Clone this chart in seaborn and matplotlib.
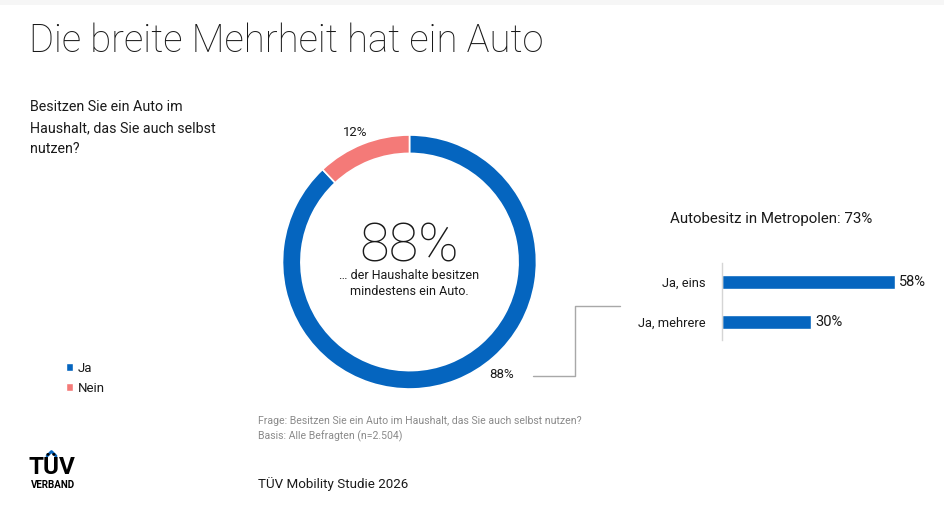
import matplotlib
matplotlib.use("Agg")
import matplotlib.pyplot as plt
import seaborn as sns
import pandas as pd
from matplotlib.lines import Line2D
from matplotlib.patches import Patch

# Data
donut_labels = ['Ja', 'Nein']
donut_values = [88, 12]
metro_labels = ['Ja, eins', 'Ja, mehrere']
metro_values = [58, 30]
metro_total = 73

COLORS = {
    'blue': '#0565BF',
    'salmon': '#F47A78',
    'text': '#1A1A1A',
    'grey': '#8A8A8A',
    'line': '#A8A8A8',
    'spine': '#D5D5D5',
}

W, H = 945, 532

sns.set_theme(style="white")
plt.rcParams['font.family'] = ['Roboto', 'DejaVu Sans']
plt.rcParams['text.color'] = COLORS['text']

fig = plt.figure(figsize=(W / 100, H / 100), dpi=100)
fig.patch.set_facecolor('white')


def px(x, y):
    return x / W, 1 - y / H


def ptext(x, y, s, **kw):
    fig.text(*px(x, y), s, **kw)


def axes_px(left, top, right, bottom):
    return fig.add_axes([left / W, 1 - bottom / H, (right - left) / W, (bottom - top) / H])


# faint strip at the top
fig.add_artist(plt.Rectangle((0, 1 - 5 / H), 1, 5 / H, transform=fig.transFigure,
                             color='#F6F6F6', lw=0))

# Title and question
ptext(29, 41, 'Die breite Mehrheit hat ein Auto', fontsize=27.5, fontweight='light',
      va='center', ha='left')
ptext(30, 128, 'Besitzen Sie ein Auto im\nHaushalt, das Sie auch selbst\nnutzen?',
      fontsize=10.3, va='center', ha='left', linespacing=1.6)

# Donut
ax_d = axes_px(282.5, 135, 536.5, 389)
wedges, _ = ax_d.pie(donut_values, colors=[COLORS['blue'], COLORS['salmon']],
                     startangle=90, counterclock=False, radius=1,
                     wedgeprops=dict(width=0.145, edgecolor='white', linewidth=1.2))
ax_d.set_xlim(-1, 1)
ax_d.set_ylim(-1, 1)
ax_d.set_aspect('auto')
ax_d.axis('off')

ax_d.text(0, 0.12, f'{donut_values[0]}%', fontsize=39, fontweight='light',
          ha='center', va='center')
ax_d.text(0, -0.17, '… der Haushalte besitzen\nmindestens ein Auto.', fontsize=9,
          ha='center', va='center', linespacing=1.3)

ptext(355, 133, f'{donut_values[1]}%', fontsize=9.5, ha='center', va='center')
ptext(502, 375, f'{donut_values[0]}%', fontsize=9.5, ha='center', va='center')

# Legend
handles = [Patch(facecolor=COLORS['blue']), Patch(facecolor=COLORS['salmon'])]
fig.legend(handles, donut_labels, loc='upper left', bbox_to_anchor=px(54, 350),
           frameon=False, handlelength=0.55, handleheight=0.55, handletextpad=0.35,
           labelspacing=0.55, fontsize=9.5)

# Connector line
conn = Line2D([533 / W, 575 / W, 575 / W, 620 / W],
              [1 - 376 / H, 1 - 376 / H, 1 - 306 / H, 1 - 306 / H],
              transform=fig.transFigure, color=COLORS['line'], lw=1)
fig.add_artist(conn)

# Metro bars
metro_df = pd.DataFrame({'label': metro_labels, 'value': metro_values})
ax_b = axes_px(722, 263, 1020, 340)
sns.barplot(data=metro_df, x='value', y='label', order=metro_labels, orient='h',
            color=COLORS['blue'], saturation=1, width=0.33, ax=ax_b)
ax_b.set_xlim(0, 100)
ax_b.set_ylim(1.45, -0.475)
ax_b.set_xlabel('')
ax_b.set_ylabel('')
ax_b.set_xticks([])
ax_b.tick_params(axis='y', length=0, pad=12, labelsize=9.3, labelcolor=COLORS['text'])
for side in ['top', 'right', 'bottom']:
    ax_b.spines[side].set_visible(False)
ax_b.spines['left'].set_color(COLORS['spine'])
ax_b.spines['left'].set_linewidth(1)
ax_b.patch.set_alpha(0)
for i, v in enumerate(metro_values):
    ax_b.text(v + 1.5, i, f'{v}%', va='center', ha='left', fontsize=10.5)

ptext(771, 219, f'Autobesitz in Metropolen: {metro_total}%', fontsize=10.8,
      ha='center', va='center')

# Footnotes
ptext(258, 421, 'Frage: Besitzen Sie ein Auto im Haushalt, das Sie auch selbst nutzen?',
      fontsize=7.6, color=COLORS['grey'], va='center', ha='left')
ptext(258, 436, 'Basis: Alle Befragten (n=2.504)', fontsize=7.6, color=COLORS['grey'],
      va='center', ha='left')
ptext(258, 484, 'TÜV Mobility Studie 2026', fontsize=9.6, va='center', ha='left')

# Logo
ptext(52, 468, 'TÜV', fontsize=17.5, fontweight='bold', ha='center', va='center',
      color='black')
ptext(53, 485, 'VERBAND', fontsize=7, fontweight='bold', ha='center', va='center',
      color='black')
fig.add_artist(Line2D([47 / W, 51.5 / W, 56 / W], [1 - 456 / H, 1 - 451.5 / H, 1 - 456 / H],
                      transform=fig.transFigure, color=COLORS['blue'], lw=2))

fig.savefig('out.png', dpi=100, facecolor='white')
